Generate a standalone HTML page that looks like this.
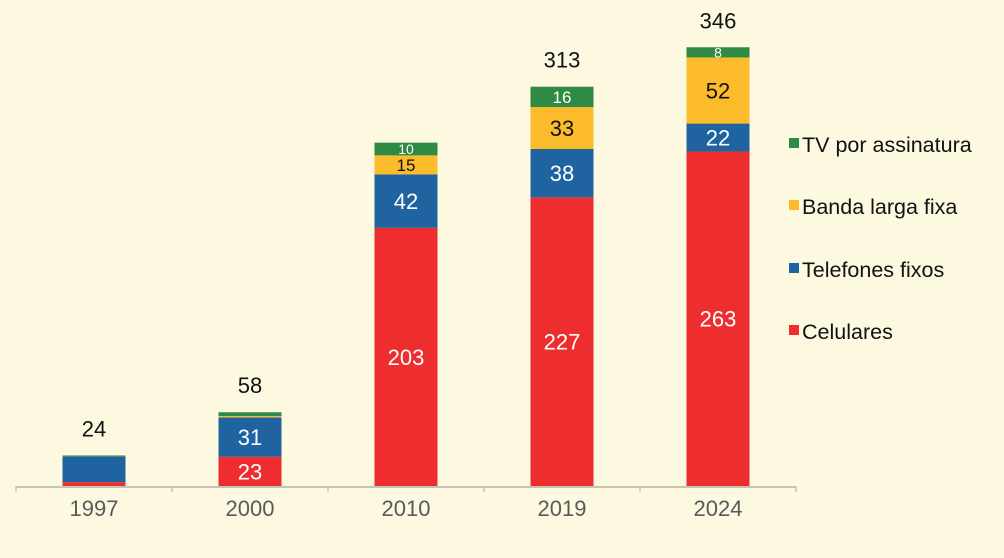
<!DOCTYPE html>
<html><head><meta charset="utf-8"><style>
html,body{margin:0;padding:0;background:#fdf9e1;}
svg{display:block;font-family:"Liberation Sans",Arial,sans-serif;}
</style></head><body>
<svg id="chart" width="1004" height="558" viewBox="0 0 1004 558">
<rect width="1004" height="558" fill="#fdf9e1"/>
<g id="plot"></g>
<g id="legend"></g>
</svg>
<script>
const categories = ["1997","2000","2010","2019","2024"];
const celulares = [3,23,203,227,263];
const telefones = [20,31,42,38,22];
const banda = [0,1,15,33,52];
const tv = [1,3,10,16,8];
const totals = ["24","58","","313","346"];
const seriesNames = ["Celulares","Telefones fixos","Banda larga fixa","TV por assinatura"];
const colors = ["#ed2d2e","#1f64a0","#fbbb2a","#2e8a44"];
const labelColors = ["#fff","#fff","#111","#fff"];
const minLabel = [10,21,10,5];

const NS="http://www.w3.org/2000/svg";
const plot=document.getElementById('plot');
const baseY=486, scale=440/346, x0=16, step=156, barW=63;
const y=v=>baseY-v*scale;
const xc=i=>x0+step*(i+0.5);
function mk(tag,attrs,parent){const e=document.createElementNS(NS,tag);for(const k in attrs)e.setAttribute(k,attrs[k]);parent.appendChild(e);return e;}
const series=[celulares,telefones,banda,tv];
const seg=["celulares","telefones","banda","tv"];
categories.forEach((c,i)=>{
  let acc=0;
  series.forEach((s,j)=>{
    const v=s[i]; if(!v)return;
    const r=mk('rect',{x:xc(i)-barW/2,y:y(acc+v),width:barW,height:v*scale,fill:colors[j]},plot);
    
    
    if(v>=minLabel[j]){
      const fs=v<12?14:(v<17?17:22);
      const t=mk('text',{x:xc(i),y:y(acc+v/2)+fs*0.36,'text-anchor':'middle','font-size':fs,fill:labelColors[j]},plot);
      t.textContent=v;
      
      
    }
    acc+=v;
  });
  if(totals[i]){
    const t=mk('text',{x:xc(i),y:y(acc)-19,'text-anchor':'middle','font-size':22,fill:'#111'},plot);
    t.textContent=totals[i];
    
    
  }
  const xl=mk('text',{x:xc(i),y:516,'text-anchor':'middle','font-size':22,fill:'#595959'},plot);
  xl.textContent=c;
  
  
});
const ax=mk('line',{x1:x0,x2:x0+step*5,y1:baseY+1,y2:baseY+1,stroke:'#c8c4b4','stroke-width':2},plot);


for(let k=0;k<=5;k++){
  const tk=mk('line',{x1:x0+step*k,x2:x0+step*k,y1:baseY,y2:baseY+6,stroke:'#c8c4b4','stroke-width':1.5},plot);
  
  
}
const lg=document.getElementById('legend');
const lgY=[331,269,206,144];
seriesNames.forEach((n,j)=>{
  const g=mk('g',{},lg);
  
  
  mk('rect',{x:789,y:lgY[j]-6,width:10,height:10,fill:colors[j]},g);
  const t=mk('text',{x:802,y:lgY[j]+8,'font-size':21.5,fill:'#111'},g);
  t.textContent=n;
});
</script>
</body></html>
